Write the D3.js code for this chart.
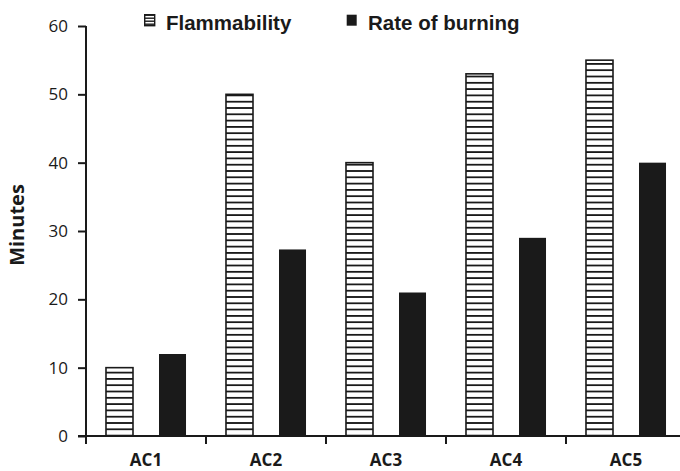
<!DOCTYPE html>
<html>
<head>
<meta charset="utf-8">
<script src="https://cdn.jsdelivr.net/npm/d3@7"></script>
<style>
  html, body { margin: 0; padding: 0; background: #fff; }
  svg { display: block; }
</style>
</head>
<body>
<div id="chart"></div>
<script>
// Categories, series and values
const categories = ["AC1", "AC2", "AC3", "AC4", "AC5"];
const seriesNames = ["Flammability", "Rate of burning"];
const flammability = [10, 50, 40, 53, 55];
const rateOfBurning = [12, 27.3, 21, 29, 40];
const yTicks = [0, 10, 20, 30, 40, 50, 60];

const W = 680, H = 471;
const svg = d3.select("#chart").append("svg")
  .attr("width", W).attr("height", H);

const defs = svg.append("defs");
// horizontal stripe fill for the flammability bars
const hatch = defs.append("pattern")
  .attr("id", "hstripes")
  .attr("patternUnits", "userSpaceOnUse")
  .attr("width", 8).attr("height", 6.3);
hatch.append("rect").attr("width", 8).attr("height", 6.3).attr("fill", "#fff");
hatch.append("rect").attr("y", 0).attr("width", 8).attr("height", 1.8).attr("fill", "#1a1a1a");

const hatchSmall = defs.append("pattern")
  .attr("id", "hstripesSmall")
  .attr("patternUnits", "userSpaceOnUse")
  .attr("width", 6).attr("height", 3);
hatchSmall.append("rect").attr("width", 6).attr("height", 3).attr("fill", "#fff");
hatchSmall.append("rect").attr("y", 0.5).attr("width", 6).attr("height", 1.4).attr("fill", "#1a1a1a");

const plotLeft = 86, plotTop = 26, plotBottom = 436;

const y = d3.scaleLinear().domain([0, 60]).range([plotBottom, plotTop]);
const x = d3.scaleBand().domain(categories).range([plotLeft, plotLeft + 600]).padding(0);
const xs = d3.scaleBand().domain(seriesNames).range([0, x.bandwidth()])
  .paddingInner(0.4906).paddingOuter(0.377);

const data = categories.map((c, i) => ({
  cat: c,
  values: [
    { key: seriesNames[0], v: flammability[i] },
    { key: seriesNames[1], v: rateOfBurning[i] }
  ]
}));

// bars
const groups = svg.append("g").selectAll("g").data(data).join("g")
  .attr("transform", d => `translate(${x(d.cat)},0)`);

groups.selectAll("rect").data(d => d.values).join("rect")
  .attr("x", d => xs(d.key))
  .attr("width", xs.bandwidth())
  .attr("y", d => y(d.v))
  .attr("height", d => y(0) - y(d.v))
  .attr("fill", d => d.key === seriesNames[0] ? "url(#hstripes)" : "#1a1a1a")
  .attr("stroke", "#1a1a1a")
  .attr("stroke-width", d => d.key === seriesNames[0] ? 1.6 : 0);

// y axis
const yAxis = svg.append("g")
  .attr("transform", `translate(${plotLeft},0)`)
  .call(d3.axisLeft(y).tickValues(yTicks).tickSize(8).tickPadding(10).tickFormat(d3.format("d")));
yAxis.select(".domain").attr("stroke", "#1a1a1a").attr("stroke-width", 2)
  .attr("d", `M0,${plotTop}V${plotBottom}`);
yAxis.selectAll(".tick line").attr("stroke", "#1a1a1a").attr("stroke-width", 2);
yAxis.selectAll(".tick text")
  .attr("font-family", "'Open Sans', sans-serif")
  .attr("font-size", 17)
  .attr("fill", "#1a1a1a");

// x axis
const xAxisG = svg.append("g").attr("transform", `translate(0,${plotBottom})`);
xAxisG.append("line")
  .attr("x1", plotLeft - 8).attr("x2", W)
  .attr("stroke", "#1a1a1a").attr("stroke-width", 2);
const boundaries = categories.map(c => x(c)).concat([x(categories[categories.length - 1]) + x.bandwidth()]);
xAxisG.selectAll("line.tk").data(boundaries).join("line")
  .attr("class", "tk")
  .attr("x1", d => d).attr("x2", d => d)
  .attr("y1", 0).attr("y2", 8)
  .attr("stroke", "#1a1a1a").attr("stroke-width", 2);
xAxisG.selectAll("text").data(categories).join("text")
  .attr("x", d => x(d) + x.bandwidth() / 2)
  .attr("y", 30)
  .attr("text-anchor", "middle")
  .attr("font-family", "'Open Sans', sans-serif")
  .attr("font-weight", "bold")
  .attr("font-size", 17)
  .attr("fill", "#1a1a1a")
  .text(d => d);

// y axis title
svg.append("text")
  .attr("transform", `translate(24,225) rotate(-90)`)
  .attr("text-anchor", "middle")
  .attr("font-family", "'Open Sans', sans-serif")
  .attr("font-weight", "bold")
  .attr("font-size", 20)
  .attr("fill", "#1a1a1a")
  .text("Minutes");

// legend
const legendItems = [
  { name: seriesNames[0], x: 144, fill: "url(#hstripesSmall)", stroke: 1.4 },
  { name: seriesNames[1], x: 346, fill: "#1a1a1a", stroke: 0 }
];
const lg = svg.append("g").selectAll("g").data(legendItems).join("g")
  .attr("transform", d => `translate(${d.x},14)`);
lg.append("rect")
  .attr("x", 0.7).attr("y", 0.7)
  .attr("width", 10).attr("height", 11)
  .attr("fill", d => d.fill)
  .attr("stroke", "#1a1a1a")
  .attr("stroke-width", d => d.stroke);
lg.append("text")
  .attr("x", 22).attr("y", 16)
  .attr("font-family", "'Liberation Sans', Arial, sans-serif")
  .attr("font-weight", "bold")
  .attr("font-size", 20.5)
  .attr("fill", "#1a1a1a")
  .text(d => d.name);
</script>
</body>
</html>
